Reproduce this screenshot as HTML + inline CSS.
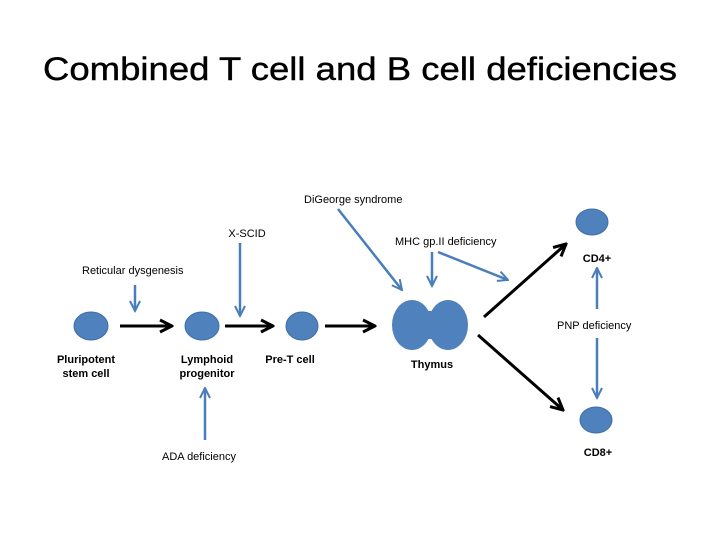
<!DOCTYPE html>
<html><head><style>body{margin:0;background:#fff}svg{display:block}</style></head><body>
<svg width="720" height="540" viewBox="0 0 720 540" xmlns="http://www.w3.org/2000/svg" font-family="Liberation Sans, sans-serif">
<defs>
<marker id="bk" viewBox="0 0 10 10" refX="9" refY="5" markerWidth="5" markerHeight="5" orient="auto"><path d="M1,1 L9,5 L1,9" fill="none" stroke="#000" stroke-width="2"/></marker>
<marker id="bl" viewBox="0 0 10 10" refX="9" refY="5" markerWidth="5" markerHeight="5" orient="auto"><path d="M1,1 L9,5 L1,9" fill="none" stroke="#4a7ebb" stroke-width="1.6"/></marker>
</defs>
<text x="360" y="80" font-size="32" text-anchor="middle" textLength="634" lengthAdjust="spacingAndGlyphs" stroke="#000" stroke-width="0.4">Combined T cell and B cell deficiencies</text>
<g fill="#4f81bd" stroke="#3d6ea5" stroke-width="1">
<ellipse cx="91" cy="326" rx="17" ry="14"/>
<ellipse cx="202" cy="326" rx="17" ry="14"/>
<ellipse cx="302" cy="326" rx="16" ry="14"/>
<ellipse cx="592" cy="222" rx="16" ry="13"/>
<ellipse cx="596" cy="420" rx="16" ry="13"/>
</g>
<g fill="#4f81bd">
<ellipse cx="412" cy="325" rx="20" ry="25"/>
<ellipse cx="448" cy="325" rx="20" ry="25"/>
<rect x="410" y="311" width="40" height="28"/>
</g>
<g stroke="#000" stroke-width="3" marker-end="url(#bk)">
<line x1="120" y1="326" x2="172" y2="326"/>
<line x1="225" y1="326" x2="273" y2="326"/>
<line x1="325" y1="326" x2="375" y2="326"/>
<line x1="484" y1="317" x2="566" y2="244"/>
<line x1="478" y1="335" x2="563" y2="410"/>
</g>
<g stroke="#4a7ebb" stroke-width="2.5" marker-end="url(#bl)">
<line x1="135" y1="285" x2="135" y2="311"/>
<line x1="240" y1="243" x2="240" y2="316"/>
<line x1="338" y1="209" x2="402" y2="290"/>
<line x1="432" y1="252" x2="432" y2="286"/>
<line x1="438" y1="252" x2="508" y2="280"/>
<line x1="597" y1="309" x2="597" y2="268"/>
<line x1="597" y1="338" x2="597" y2="398"/>
<line x1="205" y1="440" x2="205" y2="388"/>
</g>
<g font-size="11" fill="#000">
<text x="82" y="274">Reticular dysgenesis</text>
<text x="247" y="237" text-anchor="middle">X-SCID</text>
<text x="304" y="203">DiGeorge syndrome</text>
<text x="395" y="245">MHC gp.II deficiency</text>
<text x="557" y="329">PNP deficiency</text>
<text x="199" y="460" text-anchor="middle">ADA deficiency</text>
</g>
<g font-size="11" font-weight="bold" fill="#000" text-anchor="middle">
<text x="86" y="363">Pluripotent</text>
<text x="86" y="377">stem cell</text>
<text x="207" y="363">Lymphoid</text>
<text x="207" y="377">progenitor</text>
<text x="290" y="363">Pre-T cell</text>
<text x="432" y="368">Thymus</text>
<text x="597" y="262">CD4+</text>
<text x="598" y="456">CD8+</text>
</g>
</svg>
</body></html>
